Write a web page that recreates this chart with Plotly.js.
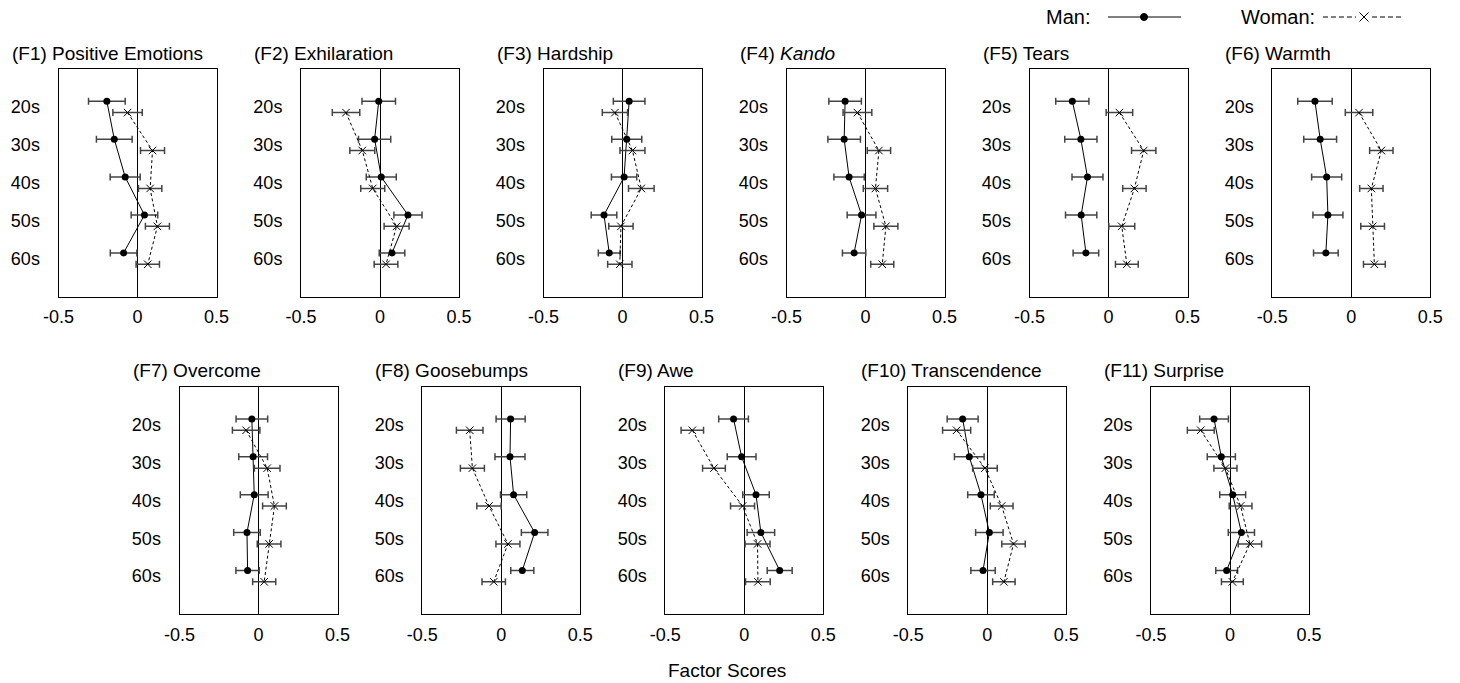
<!DOCTYPE html>
<html>
<head>
<meta charset="utf-8">
<script src="https://cdn.plot.ly/plotly-3.0.1.min.js"></script>
<style>html,body{margin:0;padding:0;background:#fff;}#chart{width:1460px;height:683px;}</style>
</head>
<body>
<div id="chart"></div>
<script>
const ageLabels = ['20s', '30s', '40s', '50s', '60s'];
const ageIndex = [1, 2, 3, 4, 5];
const factorNames = [
  '(F1) Positive Emotions', '(F2) Exhilaration', '(F3) Hardship', '(F4) <i>Kando</i>',
  '(F5) Tears', '(F6) Warmth', '(F7) Overcome', '(F8) Goosebumps', '(F9) Awe',
  '(F10) Transcendence', '(F11) Surprise'
];
const xTickVals = [-0.5, 0, 0.5];
const xTickText = ['-0.5', '0', '0.5'];

const manMean = [
  [-0.194, -0.147, -0.078, 0.044, -0.088],
  [-0.008, -0.034, 0.008, 0.177, 0.076],
  [0.042, 0.027, 0.010, -0.117, -0.084],
  [-0.129, -0.135, -0.104, -0.025, -0.072],
  [-0.229, -0.175, -0.133, -0.173, -0.143],
  [-0.230, -0.197, -0.156, -0.148, -0.161],
  [-0.042, -0.034, -0.027, -0.073, -0.069],
  [0.059, 0.055, 0.078, 0.211, 0.133],
  [-0.068, -0.017, 0.074, 0.105, 0.224],
  [-0.156, -0.114, -0.040, 0.013, -0.027],
  [-0.101, -0.055, 0.017, 0.072, -0.021]
];
const manErr = [
  [0.116, 0.113, 0.095, 0.084, 0.084],
  [0.106, 0.102, 0.095, 0.089, 0.081],
  [0.100, 0.095, 0.080, 0.081, 0.069],
  [0.103, 0.103, 0.096, 0.091, 0.074],
  [0.105, 0.102, 0.098, 0.099, 0.081],
  [0.109, 0.104, 0.095, 0.095, 0.078],
  [0.100, 0.091, 0.088, 0.084, 0.074],
  [0.092, 0.095, 0.083, 0.084, 0.073],
  [0.094, 0.091, 0.084, 0.087, 0.079],
  [0.098, 0.094, 0.084, 0.087, 0.077],
  [0.091, 0.089, 0.082, 0.083, 0.069]
];
const womanMean = [
  [-0.063, 0.095, 0.080, 0.126, 0.065],
  [-0.215, -0.112, -0.046, 0.105, 0.038],
  [-0.048, 0.063, 0.119, -0.010, -0.017],
  [-0.051, 0.085, 0.063, 0.129, 0.106],
  [0.069, 0.223, 0.164, 0.084, 0.116],
  [0.049, 0.190, 0.127, 0.135, 0.146],
  [-0.078, 0.055, 0.101, 0.067, 0.036],
  [-0.200, -0.183, -0.078, 0.042, -0.048],
  [-0.329, -0.192, -0.011, 0.084, 0.086],
  [-0.194, -0.015, 0.091, 0.166, 0.105],
  [-0.185, -0.029, 0.067, 0.126, 0.015]
];
const womanErr = [
  [0.093, 0.076, 0.074, 0.076, 0.074],
  [0.087, 0.079, 0.076, 0.079, 0.075],
  [0.080, 0.079, 0.081, 0.077, 0.077],
  [0.091, 0.074, 0.077, 0.076, 0.073],
  [0.084, 0.077, 0.074, 0.082, 0.072],
  [0.087, 0.074, 0.074, 0.075, 0.069],
  [0.087, 0.081, 0.075, 0.075, 0.073],
  [0.084, 0.076, 0.077, 0.076, 0.074],
  [0.071, 0.072, 0.076, 0.079, 0.078],
  [0.089, 0.078, 0.072, 0.074, 0.071],
  [0.085, 0.073, 0.072, 0.074, 0.069]
];

// ---- layout geometry (pixels) ----
const W = 1460, H = 683;
const panelW = 158;
const panelLeft = [58.5, 301, 543.5, 786.5, 1029.5, 1272.3, 179.5, 422.3, 665.3, 908.3, 1151];
const rowTop = [69, 386.7];
const rowBottom = [296.5, 614];
const dodge = 0.15;
const FONT = 'Liberation Sans, Arial, Helvetica, sans-serif';

const traces = [];
const layout = {
  width: W, height: H,
  margin: {l: 0, r: 0, t: 0, b: 0},
  paper_bgcolor: '#fff', plot_bgcolor: '#fff',
  showlegend: false,
  font: {family: FONT, size: 18, color: '#000'},
  annotations: [], shapes: []
};

factorNames.forEach((name, k) => {
  const n = k + 1;
  const xa = 'x' + (n === 1 ? '' : n);
  const ya = 'y' + (n === 1 ? '' : n);
  const row = k < 6 ? 0 : 1;
  const left = panelLeft[k];
  traces.push({
    type: 'scatter', mode: 'lines+markers', xaxis: xa, yaxis: ya,
    x: manMean[k], y: ageIndex.map(i => i - dodge),
    line: {color: '#000', width: 1},
    marker: {symbol: 'circle', size: 7, color: '#000'},
    error_x: {type: 'data', array: manErr[k], visible: true, color: '#444', thickness: 1.5, width: 3.5},
    hoverinfo: 'x'
  });
  traces.push({
    type: 'scatter', mode: 'lines+markers', xaxis: xa, yaxis: ya,
    x: womanMean[k], y: ageIndex.map(i => i + dodge),
    line: {color: '#000', width: 1, dash: '3px,2.5px'},
    marker: {symbol: 'x-thin-open', size: 7.5, color: '#000', line: {color: '#000', width: 1}},
    error_x: {type: 'data', array: womanErr[k], visible: true, color: '#444', thickness: 1.5, width: 3.5},
    hoverinfo: 'x'
  });
  const xKey = 'xaxis' + (n === 1 ? '' : n);
  const yKey = 'yaxis' + (n === 1 ? '' : n);
  layout[xKey] = {
    domain: [left / W, (left + panelW) / W],
    anchor: ya, range: [-0.5, 0.5], fixedrange: true,
    tickvals: xTickVals, ticktext: xTickText, ticks: '',
    showgrid: false, zeroline: true, zerolinecolor: '#000', zerolinewidth: 1,
    showline: true, mirror: true, linecolor: '#000', linewidth: 1,
    tickfont: {size: 18, family: FONT, color: '#000'}, ticklabelstandoff: 4
  };
  layout[yKey] = {
    domain: [1 - rowBottom[row] / H, 1 - rowTop[row] / H],
    anchor: xa, range: [6, 0], fixedrange: true,
    tickvals: ageIndex, ticktext: ageLabels, ticks: '',
    showgrid: false, zeroline: false,
    showline: true, mirror: true, linecolor: '#000', linewidth: 1,
    tickfont: {size: 18, family: FONT, color: '#000'}, ticklabelstandoff: 14
  };
  layout.annotations.push({
    xref: 'paper', yref: 'paper', x: (left - 49) / W, y: 1 - (rowTop[row] - 16) / H,
    xanchor: 'left', yanchor: 'middle', showarrow: false,
    text: name, font: {size: 19, family: FONT, color: '#000'}
  });
});

// axis caption
layout.annotations.push({
  xref: 'paper', yref: 'paper', x: 727 / W, y: 1 - 670 / H,
  xanchor: 'center', yanchor: 'middle', showarrow: false,
  text: 'Factor Scores', font: {size: 19, family: FONT, color: '#000'}
});

// custom legend (top right)
const ly = 1 - 17 / H;
layout.annotations.push({
  xref: 'paper', yref: 'paper', x: 1044 / W, y: ly, xanchor: 'left', yanchor: 'middle',
  showarrow: false, text: 'Man:', font: {size: 20, family: FONT, color: '#000'}
});
layout.annotations.push({
  xref: 'paper', yref: 'paper', x: 1239 / W, y: ly, xanchor: 'left', yanchor: 'middle',
  showarrow: false, text: 'Woman:', font: {size: 20, family: FONT, color: '#000'}
});
layout.shapes.push({type: 'line', xref: 'paper', yref: 'paper', x0: 1108 / W, x1: 1181 / W, y0: ly, y1: ly, line: {color: '#000', width: 1}});
layout.shapes.push({type: 'circle', xref: 'paper', yref: 'paper', xsizemode: 'pixel', ysizemode: 'pixel',
  xanchor: 1144 / W, yanchor: ly, x0: -3.5, x1: 3.5, y0: -3.5, y1: 3.5, fillcolor: '#000', line: {color: '#000', width: 1}});
layout.shapes.push({type: 'line', xref: 'paper', yref: 'paper', x0: 1323 / W, x1: 1356 / W, y0: ly, y1: ly, line: {color: '#000', width: 1, dash: '5px,3px'}});
layout.shapes.push({type: 'line', xref: 'paper', yref: 'paper', x0: 1372 / W, x1: 1404 / W, y0: ly, y1: ly, line: {color: '#000', width: 1, dash: '5px,3px'}});
layout.shapes.push({type: 'line', xref: 'paper', yref: 'paper', x0: 1359.5 / W, x1: 1368.5 / W, y0: 1 - 12.5 / H, y1: 1 - 21.5 / H, line: {color: '#000', width: 1}});
layout.shapes.push({type: 'line', xref: 'paper', yref: 'paper', x0: 1359.5 / W, x1: 1368.5 / W, y0: 1 - 21.5 / H, y1: 1 - 12.5 / H, line: {color: '#000', width: 1}});

Plotly.newPlot('chart', traces, layout, {displayModeBar: false, staticPlot: true});
</script>
</body>
</html>
